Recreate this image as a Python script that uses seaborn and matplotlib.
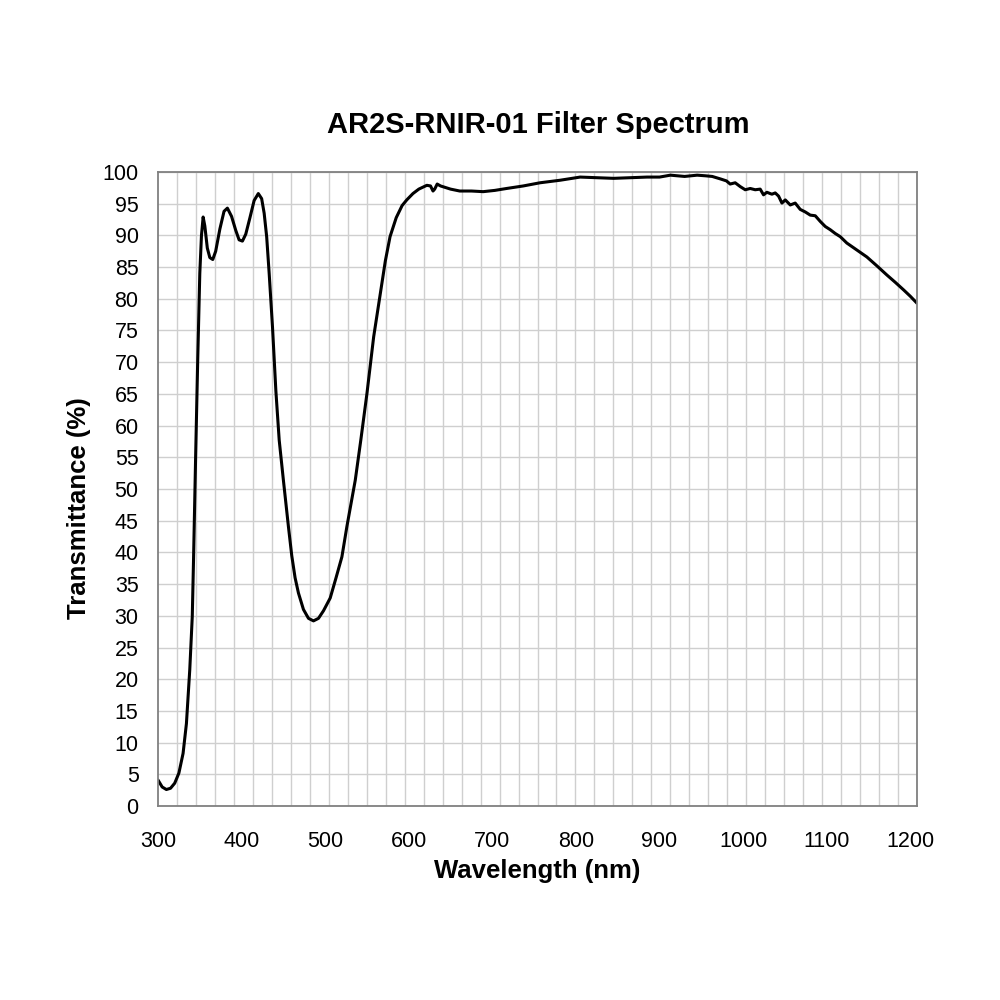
import numpy as np
import pandas as pd
import matplotlib
matplotlib.use("Agg")
import matplotlib.pyplot as plt
import seaborn as sns

# --------------------------------------------------------------------------
# Spectrum
# --------------------------------------------------------------------------
wavelength_nm = [
    300, 305, 310, 315, 320, 325, 330, 334, 338, 341, 342.5, 345, 347.5, 350,
    352, 354, 356, 359, 362, 365.5, 369, 374, 379, 383, 388, 393, 397, 401,
    405, 410, 415, 420, 424, 427, 430, 433, 437, 439, 441, 445, 450, 456, 460,
    464, 468, 474, 480, 486, 492, 498, 506, 513, 520, 526, 536, 542.6, 550,
    554, 558, 565, 572, 577.6, 585, 592, 597.6, 605, 612, 621.6, 626, 629,
    631, 634, 638, 645, 650, 661, 675, 689, 703, 717, 737, 757, 781, 805, 825,
    845, 865, 885, 900, 913, 930, 945, 955, 963, 973, 980, 984.5, 990.5,
    996.5, 1002.5, 1008.5, 1014.5, 1020.4, 1024.4, 1028.4, 1034.4, 1038.4,
    1042.4, 1046.4, 1050.4, 1056.4, 1062.3, 1068.3, 1074.3, 1080.3, 1086.3,
    1092.3, 1098.3, 1104.2, 1110.2, 1116.2, 1124, 1136, 1148, 1160, 1172,
    1182, 1192, 1200, 1208,
]
transmittance = [
    4.1, 3.0, 2.6, 2.8, 3.6, 5.2, 8.3, 13.0, 21.5, 29.9, 38.8, 55.0, 70.3, 84.0,
    90.0, 92.9, 91.5, 88.0, 86.5, 86.2, 87.5, 91.0, 93.8, 94.3, 93.0, 90.8, 89.3, 89.1,
    90.2, 92.8, 95.5, 96.6, 95.8, 93.5, 89.8, 84.0, 75.5, 70.5, 65.5, 57.7, 51.4, 44.1, 39.5,
    36.0, 33.6, 31.0, 29.6, 29.2, 29.6, 30.8, 32.8, 36.0, 39.3, 44.1, 51.4, 57.7, 65.1,
    69.5, 74.0, 80.0, 86.0, 89.8, 92.8, 94.7, 95.6, 96.6, 97.3, 97.9, 97.8, 97.0,
    97.3, 98.1, 97.8, 97.5, 97.3, 97.0, 97.0, 96.9, 97.1, 97.4, 97.8, 98.3, 98.7, 99.2, 99.1,
    99.0, 99.1, 99.2, 99.2, 99.5, 99.3, 99.5, 99.4, 99.3, 98.9, 98.6, 98.1, 98.3,
    97.7, 97.2, 97.4, 97.2, 97.3, 96.4, 96.8, 96.5, 96.7,
    96.2, 95.1, 95.6, 94.8, 95.1, 94.1, 93.7, 93.2, 93.1,
    92.2, 91.4, 90.9, 90.3, 89.8, 88.8, 87.7, 86.6, 85.2, 83.75,
    82.6, 81.4, 80.4, 79.3,
]
x_tick_labels = [300, 400, 500, 600, 700, 800, 900, 1000, 1100, 1200]
y_tick_labels = list(range(0, 101, 5))

df = pd.DataFrame({"wavelength": wavelength_nm, "transmittance": transmittance})

# --------------------------------------------------------------------------
# Plot
# --------------------------------------------------------------------------
sns.set_style("white")
plt.rcParams["font.family"] = ["Liberation Sans", "DejaVu Sans"]
plt.rcParams["text.color"] = "black"
plt.rcParams["axes.labelcolor"] = "black"

fig = plt.figure(figsize=(10, 10), dpi=100)
ax = fig.add_axes([0.158, 0.194, 0.759, 0.634])

sns.lineplot(data=df, x="wavelength", y="transmittance", ax=ax,
             color="black", linewidth=2.2, sort=False)

x_max = 1208
ax.set_xlim(300, x_max)
ax.set_ylim(0, 100)

ax.set_xticks(x_tick_labels)
ax.set_xticklabels([str(v) for v in x_tick_labels])
ax.set_yticks(y_tick_labels)
ax.set_yticklabels([str(v) for v in y_tick_labels])
ax.set_xticks(np.linspace(300, x_max, 41), minor=True)

ax.grid(False)
ax.grid(which="minor", axis="x", color="#cfcfcf", linewidth=1.0)
ax.grid(which="major", axis="y", color="#cfcfcf", linewidth=1.0)
ax.set_axisbelow(True)

ax.tick_params(axis="both", which="both", length=0, labelsize=15.5, colors="black")
ax.tick_params(axis="x", pad=18)
ax.tick_params(axis="y", pad=14)

for spine in ax.spines.values():
    spine.set_visible(True)
    spine.set_color("#808080")
    spine.set_linewidth(1.3)

ax.set_xlabel("Wavelength (nm)", fontsize=18.5, fontweight="bold", labelpad=5)
ax.set_ylabel("Transmittance (%)", fontsize=18.5, fontweight="bold")
ax.yaxis.set_label_coords(-0.088, 0.47)
fig.text(0.5385, 0.875, "AR2S-RNIR-01 Filter Spectrum", ha="center", va="center",
         fontsize=21, fontweight="bold")

fig.savefig("out.png", dpi=100, facecolor="white")
